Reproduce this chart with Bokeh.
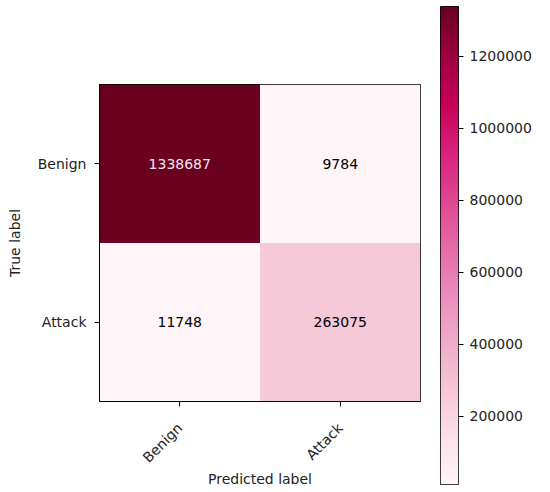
import numpy as np
from math import pi
from bokeh.plotting import figure
from bokeh.layouts import row
from bokeh.models import ColumnDataSource, LinearColorMapper, FactorRange, Range1d, FixedTicker, BasicTickFormatter
from bokeh.core.properties import value
from bokeh.embed import file_html
from bokeh.resources import INLINE

# ---- data ----
true_labels = ["Benign", "Benign", "Attack", "Attack"]
pred_labels = ["Benign", "Attack", "Benign", "Attack"]
counts = [1338687, 9784, 11748, 263075]
class_names = ["Benign", "Attack"]
colorbar_ticks = [200000, 400000, 600000, 800000, 1000000, 1200000]

# ---- palette (PuRd-like, low -> high) ----
stops = ["#fff4f8", "#fbe0ea", "#f5c6d6", "#f0aac8", "#e98cbb", "#e36aa6",
         "#de4590", "#d8207a", "#c70055", "#9c0040", "#690020"]
def hex2rgb(h):
    return [int(h[i:i + 2], 16) for i in (1, 3, 5)]
rgb = np.array([hex2rgb(s) for s in stops], dtype=float)
xs = np.linspace(0, 1, len(stops))
t = np.linspace(0, 1, 256)
pal = []
for v in t:
    r = np.interp(v, xs, rgb[:, 0]); g = np.interp(v, xs, rgb[:, 1]); b = np.interp(v, xs, rgb[:, 2])
    pal.append("#%02x%02x%02x" % (int(round(r)), int(round(g)), int(round(b))))

vmin, vmax = min(counts), max(counts)
mapper = LinearColorMapper(palette=pal, low=vmin, high=vmax)

FONT = "DejaVu Sans"
thresh = vmax / 2.0
text_colors = ["#f5e6ee" if c > thresh else "black" for c in counts]
src = ColumnDataSource(dict(t=true_labels, p=pred_labels, c=counts,
                            s=[str(c) for c in counts], tc=text_colors))

p = figure(width=430, height=490, x_range=FactorRange(*class_names),
           y_range=FactorRange(*class_names[::-1]),
           output_backend="svg", toolbar_location=None,
           min_border_left=99, min_border_top=84, min_border_bottom=86, min_border_right=10)
p.frame_align = False
p.rect(x="p", y="t", width=1, height=1, source=src,
       fill_color={"field": "c", "transform": mapper}, line_color=None)
p.text(x="p", y="t", text="s", source=src, text_color="tc",
       text_align="center", text_baseline="middle",
       text_font=value(FONT), text_font_size="14px")
p.grid.visible = False
p.outline_line_color = "black"
p.outline_line_width = 1
p.xaxis.axis_label = "Predicted label"
p.yaxis.axis_label = "True label"
for ax in (p.xaxis, p.yaxis):
    ax.axis_label_text_font = FONT
    ax.axis_label_text_font_style = "normal"
    ax.axis_label_text_font_size = "14px"
    ax.axis_label_text_color = "#222222"
    ax.major_label_text_font = FONT
    ax.major_label_text_font_size = "14px"
    ax.major_label_text_color = "#222222"
    ax.major_tick_out = 5
    ax.major_tick_in = 0
    ax.minor_tick_out = 0
    ax.axis_line_color = "black"
    ax.major_tick_line_color = "black"
p.xaxis.major_label_orientation = pi / 4
p.xaxis.major_label_standoff = 19
p.xaxis.axis_label_standoff = -3
p.yaxis.major_label_standoff = 8
p.yaxis.axis_label_standoff = 12

# ---- colorbar as its own figure ----
cb = figure(width=104, height=485, x_range=Range1d(0, 1), y_range=Range1d(vmin, vmax),
            output_backend="svg", toolbar_location=None,
            min_border_left=10, min_border_top=6, min_border_bottom=1, min_border_right=0,
            y_axis_location="right")
cb.frame_align = False
grad = np.linspace(vmin, vmax, 256).reshape(256, 1)
cb.image(image=[grad], x=0, y=vmin, dw=1, dh=vmax - vmin, color_mapper=mapper)
cb.xaxis.visible = False
cb.grid.visible = False
cb.outline_line_color = "black"
cb.outline_line_width = 1
cb.yaxis.ticker = FixedTicker(ticks=colorbar_ticks)
cb.yaxis.formatter = BasicTickFormatter(use_scientific=False)
cb.yaxis.major_label_text_font = FONT
cb.yaxis.major_label_text_font_size = "14px"
cb.yaxis.major_label_text_color = "#222222"
cb.yaxis.major_label_standoff = 6
cb.yaxis.major_tick_out = 5
cb.yaxis.major_tick_in = 0
cb.yaxis.minor_tick_out = 0
cb.yaxis.minor_tick_in = 0
cb.yaxis.axis_line_color = None
cb.yaxis.major_tick_line_color = "black"

layout = row(p, cb)
open("out.html", "w").write(file_html(layout, INLINE))
